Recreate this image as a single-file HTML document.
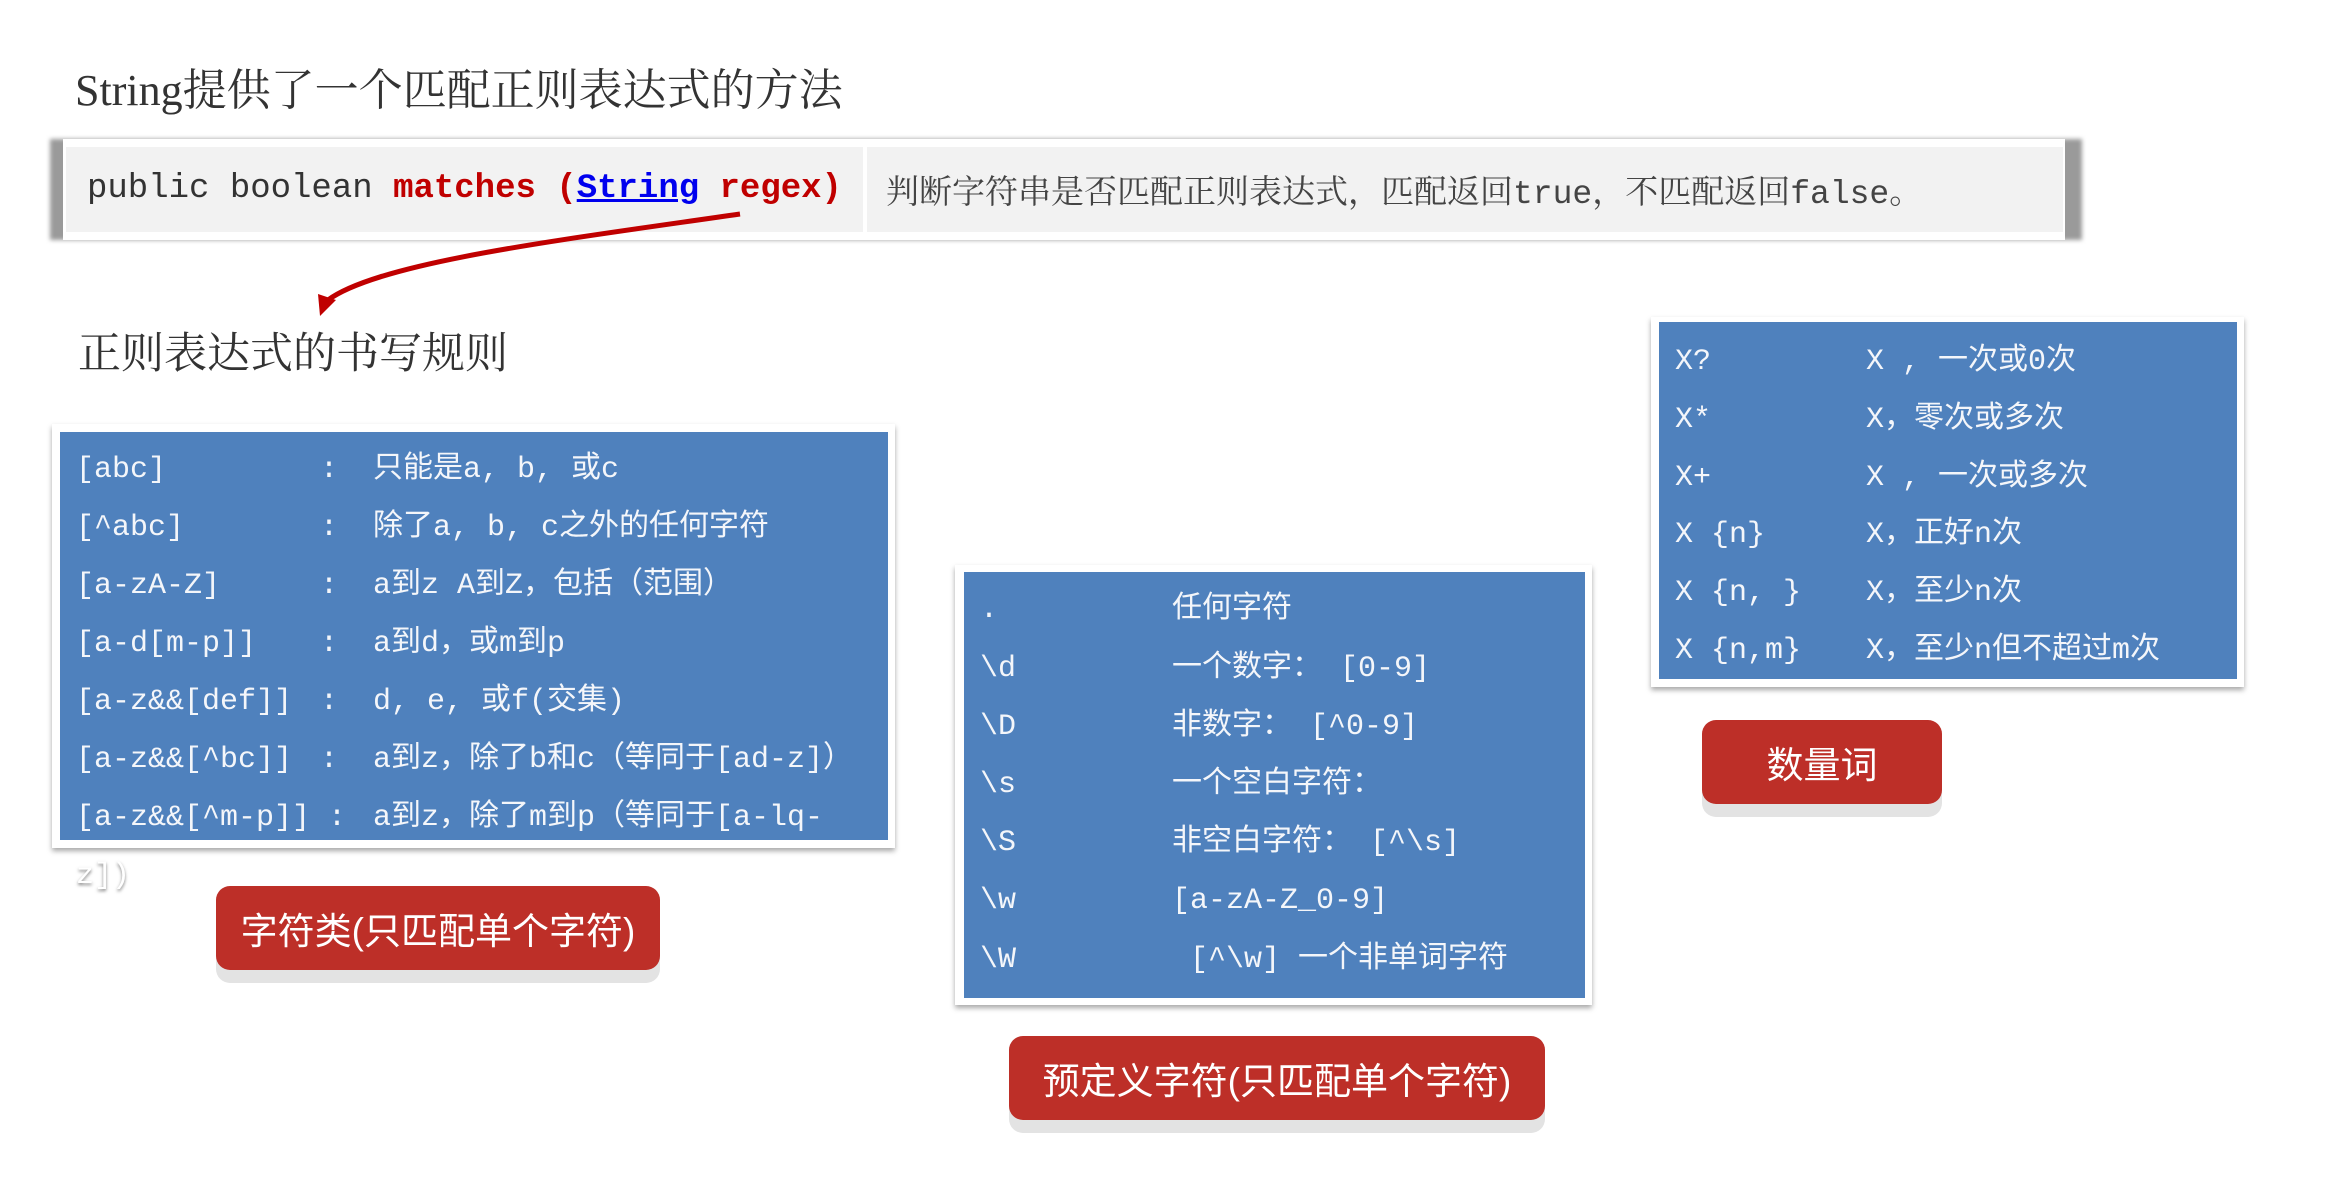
<!DOCTYPE html>
<html><head><meta charset="utf-8"><style>
*{margin:0;padding:0;box-sizing:border-box}
body{width:2339px;height:1178px;background:#fff;position:relative;overflow:hidden;font-family:"Liberation Sans","Noto Sans CJK SC",sans-serif}
.a{position:absolute;white-space:nowrap}
.t{font-family:"Liberation Serif","Noto Serif CJK SC",serif;color:#333;font-size:44px}
.box{position:absolute;background:#fff;box-shadow:0 3px 5px rgba(0,0,0,.35)}
.blue{position:absolute;background:#4f81bd}
.r{position:absolute;white-space:nowrap;color:#f4f6fa;font-size:30px;line-height:40px;font-family:"Liberation Mono","Noto Sans CJK SC",monospace}
.btn{position:absolute;background:#bd2f28;border-radius:14px;color:#fff;font-size:37px;display:flex;align-items:center;justify-content:center;box-shadow:0 13px 0 #e3e3e3}
</style></head><body>
<div class="a t" style="left:75px;top:54px">String提供了一个匹配正则表达式的方法</div>

<div class="a" style="left:50px;top:139px;width:2032px;height:101px;background:#9a9a9a;filter:blur(2px)"></div>
<div class="a" style="left:63px;top:139px;width:2002px;height:101px;background:#fff"></div>
<div class="a" style="left:66px;top:147px;width:797px;height:85px;background:#f2f2f2"></div>
<div class="a" style="left:867px;top:147px;width:1196px;height:85px;background:#f2f2f2"></div>
<div class="a" style="left:87px;top:170px;font-family:'Liberation Mono',monospace;font-size:34px;color:#333">public boolean <b style="color:#c00000">matches (<u style="color:#0000ee">String</u> regex)</b></div>
<div class="a" style="left:886px;top:166px;font-family:'Liberation Mono','Noto Serif CJK SC',serif;font-size:33px;color:#444">判断字符串是否匹配正则表达式，匹配返回true，不匹配返回false。</div>

<svg class="a" style="left:0;top:0" width="2339" height="1178">
<path d="M740 214 C560 240 380 262 328 300" stroke="#c00000" stroke-width="5" fill="none"/>
<polygon points="320,316 318,294 336,300" fill="#c00000"/>
</svg>

<div class="a t" style="left:78px;top:320px;font-size:43px">正则表达式的书写规则</div>

<div class="box" style="left:52px;top:424px;width:843px;height:424px"></div>
<div class="blue" style="left:60px;top:432px;width:828px;height:408px"></div>
<div class="r" style="left:76px;top:450px">[abc]</div><div class="r" style="left:320px;top:450px">:</div><div class="r" style="left:373px;top:450px">只能是a, b, 或c</div>
<div class="r" style="left:76px;top:508px">[^abc]</div><div class="r" style="left:320px;top:508px">:</div><div class="r" style="left:373px;top:508px">除了a, b, c之外的任何字符</div>
<div class="r" style="left:76px;top:566px">[a-zA-Z]</div><div class="r" style="left:320px;top:566px">:</div><div class="r" style="left:373px;top:566px">a到z A到Z，包括（范围）</div>
<div class="r" style="left:76px;top:624px">[a-d[m-p]]</div><div class="r" style="left:320px;top:624px">:</div><div class="r" style="left:373px;top:624px">a到d，或m到p</div>
<div class="r" style="left:76px;top:682px">[a-z&amp;&amp;[def]]</div><div class="r" style="left:320px;top:682px">:</div><div class="r" style="left:373px;top:682px">d, e, 或f(交集)</div>
<div class="r" style="left:76px;top:740px">[a-z&amp;&amp;[^bc]]</div><div class="r" style="left:320px;top:740px">:</div><div class="r" style="left:373px;top:740px">a到z，除了b和c（等同于[ad-z]）</div>
<div class="r" style="left:76px;top:798px">[a-z&amp;&amp;[^m-p]] :</div><div class="r" style="left:373px;top:798px">a到z，除了m到p（等同于[a-lq-</div>
<div class="r" style="left:76px;top:856px;color:#fff;text-shadow:0 2px 3px rgba(0,0,0,.5)">z])</div>
<div class="btn" style="left:216px;top:886px;width:444px;height:84px">字符类(只匹配单个字符)</div>

<div class="box" style="left:955px;top:565px;width:637px;height:440px"></div>
<div class="blue" style="left:964px;top:572px;width:621px;height:426px"></div>
<div class="r" style="left:980px;top:590px">.</div><div class="r" style="left:1172px;top:590px">任何字符</div>
<div class="r" style="left:980px;top:649px">\d</div><div class="r" style="left:1172px;top:649px">一个数字： [0-9]</div>
<div class="r" style="left:980px;top:707px">\D</div><div class="r" style="left:1172px;top:707px">非数字： [^0-9]</div>
<div class="r" style="left:980px;top:765px">\s</div><div class="r" style="left:1172px;top:765px">一个空白字符：</div>
<div class="r" style="left:980px;top:823px">\S</div><div class="r" style="left:1172px;top:823px">非空白字符： [^\s]</div>
<div class="r" style="left:980px;top:881px">\w</div><div class="r" style="left:1172px;top:881px">[a-zA-Z_0-9]</div>
<div class="r" style="left:980px;top:940px">\W</div><div class="r" style="left:1190px;top:940px">[^\w] 一个非单词字符</div>
<div class="btn" style="left:1009px;top:1036px;width:536px;height:84px">预定义字符(只匹配单个字符)</div>

<div class="box" style="left:1651px;top:317px;width:593px;height:370px"></div>
<div class="blue" style="left:1659px;top:322px;width:578px;height:357px"></div>
<div class="r" style="left:1675px;top:342px">X?</div><div class="r" style="left:1866px;top:342px">X , 一次或0次</div>
<div class="r" style="left:1675px;top:400px">X*</div><div class="r" style="left:1866px;top:400px">X，零次或多次</div>
<div class="r" style="left:1675px;top:458px">X+</div><div class="r" style="left:1866px;top:458px">X , 一次或多次</div>
<div class="r" style="left:1675px;top:515px">X {n}</div><div class="r" style="left:1866px;top:515px">X，正好n次</div>
<div class="r" style="left:1675px;top:573px">X {n, }</div><div class="r" style="left:1866px;top:573px">X，至少n次</div>
<div class="r" style="left:1675px;top:631px">X {n,m}</div><div class="r" style="left:1866px;top:631px">X，至少n但不超过m次</div>
<div class="btn" style="left:1702px;top:720px;width:240px;height:84px">数量词</div>
</body></html>
